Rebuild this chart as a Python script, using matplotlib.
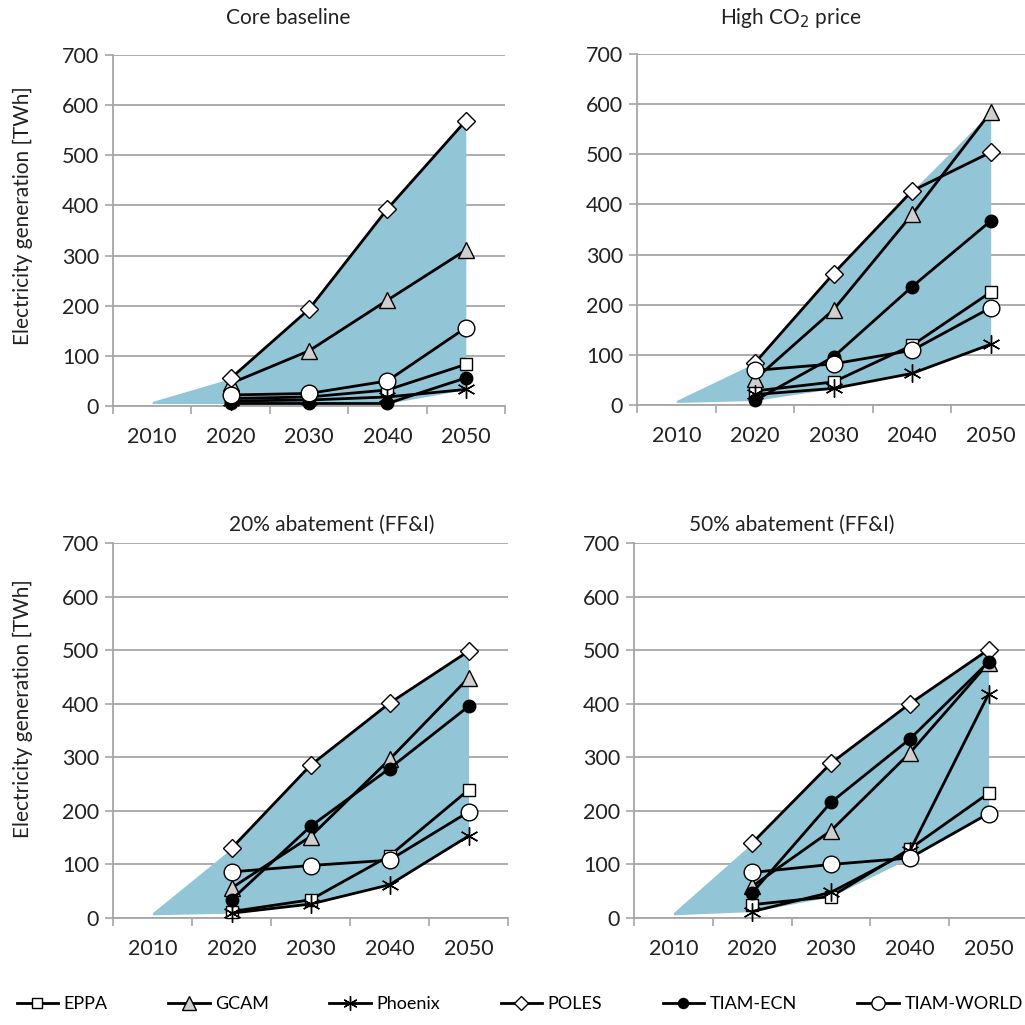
import matplotlib
matplotlib.use("Agg")
import matplotlib.pyplot as plt
from matplotlib.lines import Line2D
import numpy as np

plt.rcParams['font.family'] = ['Lato', 'DejaVu Sans']

YEARS = ["2010", "2020", "2030", "2040", "2050"]
MODELS = ["EPPA", "GCAM", "Phoenix", "POLES", "TIAM-ECN", "TIAM-WORLD"]
TITLES = ["Core baseline", "High CO$_2$ price", "20% abatement (FF&I)", "50% abatement (FF&I)"]

# values for 2020, 2030, 2040, 2050 [TWh]
core_eppa = [15, 18, 32, 83]
core_gcam = [45, 110, 211, 311]
core_phoenix = [10, 12, 18, 33]
core_poles = [55, 193, 393, 569]
core_ecn = [5, 5, 5, 56]
core_world = [22, 25, 50, 156]

co2_eppa = [28, 46, 119, 225]
co2_gcam = [51, 190, 380, 584]
co2_phoenix = [21, 33, 63, 121]
co2_poles = [84, 262, 427, 504]
co2_ecn = [9, 96, 236, 367]
co2_world = [69, 82, 109, 194]

a20_eppa = [12, 34, 116, 239]
a20_gcam = [56, 152, 296, 448]
a20_phoenix = [9, 26, 62, 153]
a20_poles = [130, 285, 401, 498]
a20_ecn = [34, 171, 279, 395]
a20_world = [86, 98, 108, 198]

a50_eppa = [25, 40, 129, 233]
a50_gcam = [59, 163, 308, 476]
a50_phoenix = [12, 48, 125, 418]
a50_poles = [140, 289, 400, 501]
a50_ecn = [47, 216, 334, 478]
a50_world = [85, 100, 112, 195]

# range band start in 2010 (low, high)
band_2010 = [(5, 9), (5, 9), (6, 10), (6, 10)]

panels = [
    [core_eppa, core_gcam, core_phoenix, core_poles, core_ecn, core_world],
    [co2_eppa, co2_gcam, co2_phoenix, co2_poles, co2_ecn, co2_world],
    [a20_eppa, a20_gcam, a20_phoenix, a20_poles, a20_ecn, a20_world],
    [a50_eppa, a50_gcam, a50_phoenix, a50_poles, a50_ecn, a50_world],
]

styles = {
    "EPPA": dict(marker="s", ms=9, mfc="white"),
    "GCAM": dict(marker="^", ms=12, mfc="#cfcfcf"),
    "Phoenix": dict(marker=(6, 2, 0), ms=13, mfc="black", mew=1.0),
    "POLES": dict(marker="D", ms=9, mfc="white"),
    "TIAM-ECN": dict(marker="o", ms=9, mfc="black"),
    "TIAM-WORLD": dict(marker="o", ms=12, mfc="white"),
}

FILL = "#92c5d6"
GRID = "#a6a6a6"
TXT = "#222222"

fig = plt.figure(figsize=(10.25, 10.25), dpi=100)
W, H = 1025.0, 1025.0

# axes boxes in pixels: left, right, top(700), bottom(0)
boxes = [(113, 505, 55, 406), (637, 1030, 54, 405), (113, 508, 543, 918), (634, 1028, 543, 918)]
title_pos = [(288, 18), (791, 18), (332, 525), (792, 525)]

for i, (data, box) in enumerate(zip(panels, boxes)):
    l, r, t, b = box
    ax = fig.add_axes([l / W, 1 - b / H, (r - l) / W, (b - t) / H])
    x = np.arange(len(YEARS))
    arr = np.array(data)
    lo = np.concatenate([[band_2010[i][0]], arr.min(axis=0)])
    hi = np.concatenate([[band_2010[i][1]], arr.max(axis=0)])
    ax.fill_between(x, lo, hi, color=FILL, lw=0, zorder=1)
    for name, vals in zip(MODELS, data):
        st = styles[name]
        ax.plot(x[1:], vals, color="black", lw=2.0, marker=st["marker"], ms=st["ms"],
                mfc=st["mfc"], mec="black", mew=st.get("mew", 1.0), zorder=3, clip_on=False)
    ax.set_xlim(-0.5, 4.5)
    ax.set_ylim(0, 700)
    ax.set_yticks(range(0, 701, 100))
    ax.set_xticks(x)
    ax.set_xticklabels(YEARS)
    ax.set_xticks(np.arange(-0.5, 4.6, 1), minor=True)
    ax.tick_params(axis="x", which="major", length=0, pad=15, labelsize=15.5, colors=TXT)
    ax.tick_params(axis="x", which="minor", length=6, width=1.2, color=GRID, direction="out")
    ax.tick_params(axis="y", length=6, width=1.2, color=GRID, pad=4, labelsize=15.5, labelcolor=TXT)
    ax.yaxis.grid(True, color=GRID, lw=1.3)
    ax.set_axisbelow(True)
    for s in ["top", "right"]:
        ax.spines[s].set_visible(False)
    for s in ["left", "bottom"]:
        ax.spines[s].set_color(GRID)
        ax.spines[s].set_linewidth(1.3)
    tx, ty = title_pos[i]
    fig.text(tx / W, 1 - ty / H, TITLES[i], ha="center", va="center", fontsize=15, color=TXT)

fig.text(23 / W, 1 - 216 / H, "Electricity generation [TWh]", rotation=90, ha="center", va="center",
         fontsize=15, color=TXT)
fig.text(23 / W, 1 - 709 / H, "Electricity generation [TWh]", rotation=90, ha="center", va="center",
         fontsize=15, color=TXT)

handles = []
for name in MODELS:
    st = styles[name]
    handles.append(Line2D([], [], color="black", lw=2.0, marker=st["marker"], ms=st["ms"] * 0.8,
                          mfc=st["mfc"], mec="black", mew=st.get("mew", 1.0)))
fig.legend(handles, MODELS, loc="center", bbox_to_anchor=(0.507, 1 - 1004 / H), ncol=6, frameon=False,
           fontsize=13, handlelength=2.3, handletextpad=0.3, columnspacing=3.35)

fig.savefig("out.png", dpi=100)
